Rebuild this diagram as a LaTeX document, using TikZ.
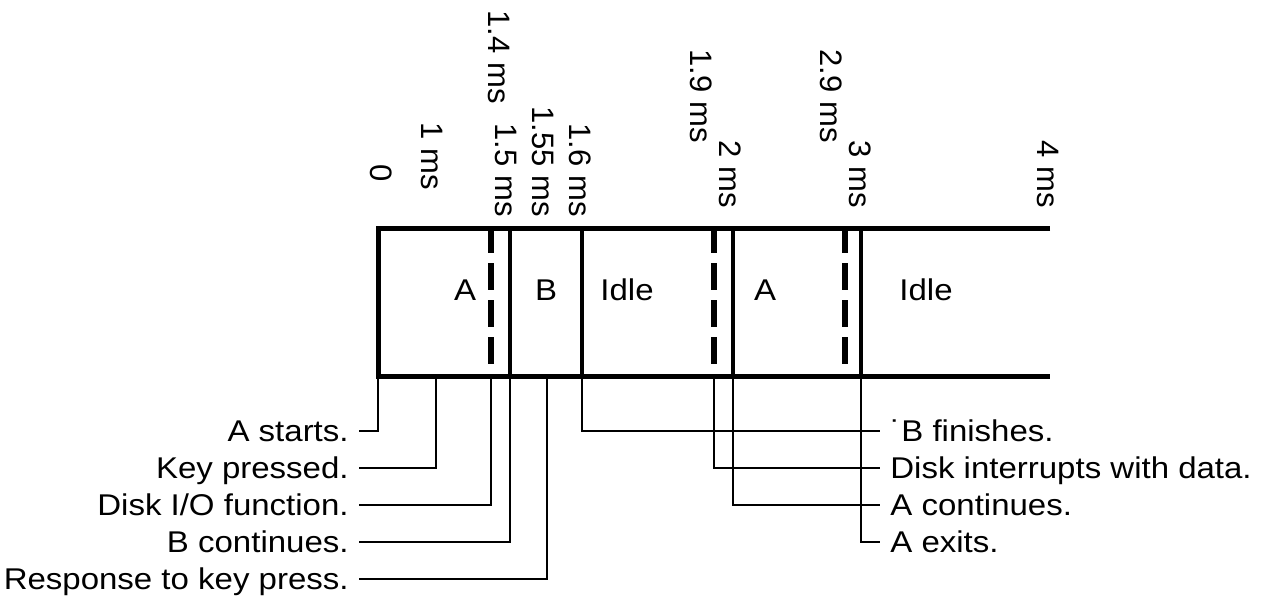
\documentclass[tikz,border=0pt]{standalone}
\usepackage{fontspec}
\setmainfont{Liberation Sans}[FakeStretch=1.1]
\newfontfamily\rotfont{Liberation Sans}
\usetikzlibrary{calc}

\begin{document}
\begin{tikzpicture}[x=0.5pt,y=-0.5pt,
  box/.style={line width=2.5pt},
  cut/.style={line width=2.25pt},
  gap/.style={line width=3pt,dash pattern=on 13.5pt off 5pt},
  lead/.style={line width=1.25pt},
  txt/.style={font=\fontsize{15}{17}\selectfont,text height=10.75pt,
    text depth=0pt,inner ysep=0pt,inner xsep=5pt},
  tick/.style={font=\rotfont\fontsize{15.5}{17}\selectfont,text height=11.1pt,
    text depth=0pt,inner sep=0pt,rotate=-90,anchor=east}]
\useasboundingbox (0,0) rectangle (1263,600);

% points on the time axis
\coordinate (T0) at (378,376);
\coordinate (T1) at (436,376);
\coordinate (T14) at (491,376);
\coordinate (T15) at (510,376);
\coordinate (T155) at (547,376);
\coordinate (T16) at (582,376);
\coordinate (T19) at (714,376);
\coordinate (T2) at (733,376);
\coordinate (T29) at (845,376);
\coordinate (T3) at (861,376);
\coordinate (T4) at (1050,376);

\draw[box] (T4 |- 0,228) -- (T0 |- 0,228) -- (T0) -- (T4);
\foreach \t in {T15,T16,T2,T3}
  \draw[cut] (\t |- 0,228) -- (\t);
\foreach \t in {T14,T19,T29}
  \draw[gap] (\t |- 0,226) -- (\t |- 0,364);

% times
\node[tick] (L0) at (382,182) {0};
\node[tick] (L1) at (433,190) {1 ms};
\node[tick] (L14) at (500,104) {1.4 ms};
\node[tick] (L15) at (507,217) {1.5 ms};
\node[tick] (L155) at (544,217) {1.55 ms};
\node[tick] (L16) at (581,217) {1.6 ms};
\node[tick] (L19) at (702,143) {1.9 ms};
\node[tick] (L2) at (731,208) {2 ms};
\node[tick] (L29) at (832,143) {2.9 ms};
\node[tick] (L3) at (861,208) {3 ms};
\node[tick] (L4) at (1049,208) {4 ms};

% who runs
\node[txt] (runA) at (465,290) {A};
\node[txt] (runB) at (546,290) {B};
\node[txt] (idleA) at (627,290) {Idle};
\node[txt] (runA2) at (765,290) {A};
\node[txt] (idleB) at (926,290) {Idle};

% events
\node[txt,anchor=east] (astart) at (359,431) {A starts.};
\node[txt,anchor=east] (key) at (359,468) {Key pressed.};
\node[txt,anchor=east] (diskio) at (359,505) {Disk I/O function.};
\node[txt,anchor=east] (bcont) at (359,542) {B continues.\ };
\node[txt,anchor=east] (resp) at (359,579) {Response to key press.};
\node[txt,anchor=west] (bfin) at (880,431) {˙B finishes.};
\node[txt,anchor=west] (irq) at (880,468) {Disk interrupts with data.};
\node[txt,anchor=west] (acont) at (880,505) {A continues.};
\node[txt,anchor=west] (aexit) at (880,542) {A exits.};

\draw[lead] (T0) |- (astart);
\draw[lead] (T1) |- (key);
\draw[lead] (T14) |- (diskio);
\draw[lead] (T15) |- (bcont);
\draw[lead] (T155) |- (resp);
\draw[lead] (T16) |- (bfin);
\draw[lead] (T19) |- (irq);
\draw[lead] (T2) |- (acont);
\draw[lead] (T3) |- (aexit);
\end{tikzpicture}
\end{document}
